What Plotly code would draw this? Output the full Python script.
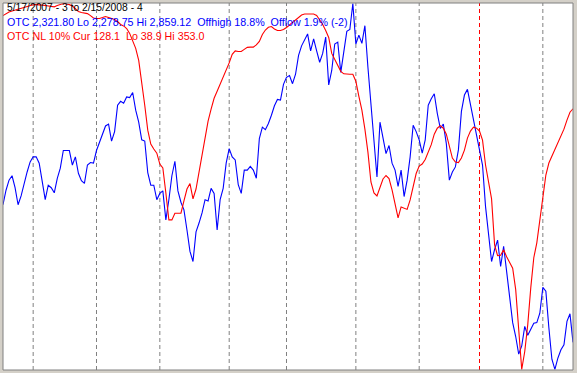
import pandas as pd
import plotly.graph_objects as go

# Trading days 5/17/2007 .. 2/15/2008
holidays = ["2007-05-28", "2007-07-04", "2007-09-03", "2007-11-22",
            "2007-12-25", "2008-01-01", "2008-01-21"]
start_date = "2007-05-17"
end_date = "2008-02-15"

otc = [
    2540, 2563, 2579, 2586, 2567, 2540, 2554, 2574, 2592, 2608,
    2616, 2616, 2606, 2577, 2548, 2571, 2567, 2559, 2582, 2598,
    2626, 2626, 2626, 2603, 2616, 2590, 2578, 2574, 2603, 2607,
    2606, 2626, 2638, 2653, 2665, 2668, 2641, 2656, 2698, 2704,
    2701, 2711, 2710, 2718, 2690, 2671, 2643, 2641, 2591, 2571,
    2571, 2548, 2558, 2562, 2516, 2548, 2586, 2609, 2562, 2544,
    2532, 2500, 2466, 2450, 2497, 2511, 2527, 2548, 2546, 2566,
    2558, 2500, 2548, 2566, 2606, 2629, 2616, 2611, 2572, 2558,
    2595, 2595, 2601, 2595, 2582, 2645, 2663, 2659, 2669, 2682,
    2697, 2707, 2706, 2731, 2742, 2745, 2732, 2747, 2777, 2792,
    2801, 2811, 2784, 2803, 2784, 2766, 2780, 2806, 2730, 2753,
    2795, 2798, 2750, 2785, 2815, 2818, 2859.12, 2795, 2809, 2796,
    2824, 2758, 2698, 2645, 2584, 2671, 2643, 2621, 2634, 2606,
    2595, 2569, 2595, 2553, 2579, 2616, 2666, 2656, 2643, 2622,
    2643, 2698, 2708, 2716, 2685, 2661, 2668, 2637, 2579, 2592,
    2600, 2627, 2688, 2714, 2723, 2699, 2674, 2648, 2621, 2603,
    2537, 2495, 2450, 2469, 2484, 2442, 2474, 2434, 2395, 2353,
    2331, 2303, 2316, 2347, 2333, 2342, 2352, 2353, 2368, 2409,
    2403, 2345, 2295, 2278.75, 2297, 2310, 2318, 2355, 2367, 2321.80,
]

otc_nl = [
    342.7, 344.4, 345.7, 346.6, 347.4, 348.1, 348.9, 349.6, 350.4, 351.1,
    352.0, 352.1, 352.1, 351.7, 351.3, 350.9, 350.2, 350.2, 351.3, 352.1,
    353.0, 352.6, 352.1, 350.9, 348.7, 346.2, 345.3, 344.9, 344.4, 342.7,
    340.6, 340.2, 340.2, 341.0, 341.9, 341.0, 340.2, 339.3, 337.6, 335.1,
    333.8, 331.6, 327.4, 321.4, 314.5, 304.2, 287.1, 265.7, 244.3, 232.4,
    228.1, 224.6, 215.2, 211.8, 190.4, 167.3, 167.3, 173.0, 173.0, 173.0,
    183.6, 193.8, 198.5, 185.3, 193.8, 207.5, 223.8, 238.3, 252.0, 262.3,
    271.7, 277.7, 283.7, 291.0, 296.5, 302.1, 309.4, 312.4, 311.9, 311.9,
    313.7, 315.4, 315.6, 315.6, 317.5, 320.5, 326.5, 330.3, 332.7, 333.3,
    331.2, 329.9, 329.9, 330.8, 332.5, 334.6, 336.8, 338.9, 341.5, 343.2,
    344.0, 344.2, 344.2, 344.0, 342.8, 339.3, 335.1, 329.9, 323.9, 310.2,
    304.7, 299.1, 294.8, 292.7, 292.3, 292.3, 292.3, 286.3, 273.4, 261.5,
    245.2, 225.5, 199.8, 190.4, 187.8, 194.7, 202.4, 205.4, 202.8, 193.0,
    181.0, 169.0, 178.4, 177.6, 176.3, 184.4, 197.3, 207.1, 213.5, 215.2,
    219.1, 225.5, 231.9, 240.9, 246.0, 248.2, 246.0, 240.9, 230.6, 220.4,
    216.9, 216.5, 220.4, 227.2, 237.5, 243.5, 246.9, 246.0, 243.5, 235.8,
    214.4, 199.0, 185.3, 145.9, 136.5, 136.9, 141.6, 135.6, 130.9, 125.8,
    107.4, 68.9, 38.9, 54.3, 77.4, 109.1, 134.8, 147.6, 167.3, 186.1,
    205.8, 216.1, 222.1, 227.6, 234.1, 240.1, 245.2, 252.9, 259.7, 262.7,
]

title_line = "5/17/2007 - 3 to 2/15/2008 - 4"
otc_line = ("OTC 2,321.80 Lo 2,278.75 Hi 2,859.12\u00a0\u00a0Offhigh 18.8%"
            "\u00a0\u00a0Offlow 1.9% (-2)")
nl_line = "OTC NL 10% Cur 128.1\u00a0\u00a0Lo 38.9 Hi 353.0"

dates = pd.bdate_range(start_date, end_date, freq="C", holidays=holidays)
n = min(len(dates), len(otc), len(otc_nl))
dates = dates[:n]
idx = list(range(n))

# first trading day of each month (except the first)
month_starts = []
for i in range(1, n):
    if dates[i].month != dates[i - 1].month:
        month_starts.append((i, dates[i].year != dates[i - 1].year))

fig = go.Figure()
fig.add_trace(go.Scatter(x=idx, y=otc[:n], mode="lines",
                         line=dict(color="#0000FF", width=1.1),
                         yaxis="y", hoverinfo="skip"))
fig.add_trace(go.Scatter(x=idx, y=otc_nl[:n], mode="lines",
                         line=dict(color="#FF0000", width=1.1),
                         yaxis="y2", hoverinfo="skip"))

shapes = []
for i, newyear in month_starts:
    shapes.append(dict(type="line", xref="x", yref="paper", x0=i, x1=i,
                       y0=0, y1=1, layer="below",
                       line=dict(color="#FF0000" if newyear else "#808080",
                                 width=1, dash="4px,3px")))
shapes.append(dict(type="rect", xref="paper", yref="paper", x0=0, x1=1,
                   y0=0, y1=1, layer="above",
                   line=dict(color="#808080", width=1)))

W, H = 577, 373
ml, mr, mt, mb = 3, 4, 3, 3
pw, ph = W - ml - mr, H - mt - mb


def px(xp):
    return (xp - ml) / pw


def py(yp):
    return (H - mb - yp) / ph


annotations = [
    dict(text=title_line, x=px(5), y=py(8), font=dict(color="#000000", size=10.3)),
    dict(text=otc_line, x=px(5), y=py(22), font=dict(color="#0000FF", size=10.7)),
    dict(text=nl_line, x=px(5), y=py(35.5), font=dict(color="#FF0000", size=10.7)),
]
for a in annotations:
    a.update(xref="paper", yref="paper", xanchor="left", yanchor="middle",
             showarrow=False)
    a["font"]["family"] = "Liberation Sans, Arial, sans-serif"

fig.update_layout(
    width=W, height=H,
    margin=dict(l=ml, r=mr, t=mt, b=mb, pad=0),
    paper_bgcolor="#D4D0C8",
    plot_bgcolor="#FFFFFF",
    showlegend=False,
    xaxis=dict(range=[0, n - 1], visible=False, showgrid=False, zeroline=False,
               fixedrange=True),
    yaxis=dict(range=[2277.9, 2860.0], visible=False, showgrid=False,
               zeroline=False, fixedrange=True),
    yaxis2=dict(range=[38.4, 353.5], visible=False, showgrid=False,
                zeroline=False, overlaying="y", fixedrange=True),
    shapes=shapes,
    annotations=annotations,
    hovermode=False,
)

fig.write_html(
    "out.html",
    config={"displayModeBar": False},
    post_script="document.body.style.margin='0';document.body.style.padding='0';"
                "document.body.style.overflow='hidden';"
                "document.documentElement.style.overflow='hidden';",
)
